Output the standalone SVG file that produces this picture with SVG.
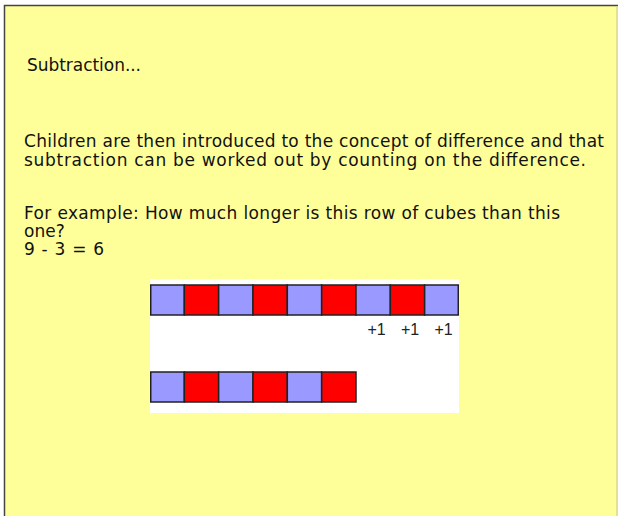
<svg xmlns="http://www.w3.org/2000/svg" width="618" height="516" viewBox="0 0 618 516">
<style>
.t{font-family:"DejaVu Sans",sans-serif;font-size:17px;fill:#111}
.p{font-family:"Liberation Sans",Arial,sans-serif;font-size:16px;fill:#222;text-anchor:middle}
.b{fill:#9999FF;stroke:#222;stroke-width:1.5}
.r{fill:#FF0000;stroke:#222;stroke-width:1.5}
</style>
<rect x="0" y="0" width="618" height="516" fill="#ffffff"/>
<rect x="4.5" y="5.5" width="620" height="520" fill="#FFFF99" stroke="#444" stroke-width="1.5"/>
<line x1="617" y1="6.5" x2="617" y2="516" stroke="#d8d890" stroke-width="1.5"/>
<g id="title"><text class="t" x="27" y="71" textLength="114">Subtraction...</text></g>
<g id="body">
<text class="t" x="24" y="147" textLength="580">Children are then introduced to the concept of difference and that</text>
<text class="t" x="24" y="166" textLength="562">subtraction can be worked out by counting on the difference.</text>
<text class="t" x="24" y="219" textLength="536">For example: How much longer is this row of cubes than this</text>
<text class="t" x="24" y="237">one?</text>
<text class="t" x="24" y="255" textLength="80">9 - 3 = 6</text>
</g>
<g id="picture">
<rect x="150" y="279" width="309" height="134" fill="#ffffff"/>
<g id="row1">
<rect class="b" x="150.75" y="285" width="33.58" height="30"/>
<rect class="r" x="184.33" y="285" width="34.33" height="30"/>
<rect class="b" x="218.67" y="285" width="34.33" height="30"/>
<rect class="r" x="253" y="285" width="34.33" height="30"/>
<rect class="b" x="287.33" y="285" width="34.33" height="30"/>
<rect class="r" x="321.67" y="285" width="34.33" height="30"/>
<rect class="b" x="356" y="285" width="34.33" height="30"/>
<rect class="r" x="390.33" y="285" width="34.33" height="30"/>
<rect class="b" x="424.67" y="285" width="33.58" height="30"/>
</g>
<g id="labels">
<text class="p" x="376.5" y="335">+1</text>
<text class="p" x="410" y="335">+1</text>
<text class="p" x="443.5" y="335">+1</text>
</g>
<g id="row2">
<rect class="b" x="150.75" y="372" width="33.58" height="30"/>
<rect class="r" x="184.33" y="372" width="34.33" height="30"/>
<rect class="b" x="218.67" y="372" width="34.33" height="30"/>
<rect class="r" x="253" y="372" width="34.33" height="30"/>
<rect class="b" x="287.33" y="372" width="34.33" height="30"/>
<rect class="r" x="321.67" y="372" width="34.33" height="30"/>
</g>
</g>
<g id="connectors"/>
</svg>
